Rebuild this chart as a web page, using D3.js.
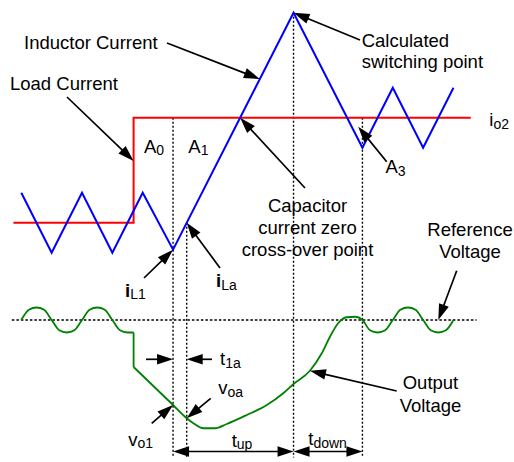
<!DOCTYPE html>
<html>
<head>
<meta charset="utf-8">
<script src="https://cdn.jsdelivr.net/npm/d3@7"></script>
<style>
  html, body { margin: 0; padding: 0; background: #fff; }
  svg { display: block; font-family: "Liberation Sans", Arial, sans-serif; }
</style>
</head>
<body>
<svg id="chart" width="514" height="462"></svg>
<script>
// Time is measured in half switching periods; currents and voltage in arbitrary units.

// Inductor current (triangle ripple, transient ramp up, overshoot, then new ripple)
const inductorTime = [0, 1, 2, 3, 4, 5, 8.97, 11.24, 12.24, 13.24, 14.24];
const inductorCurrent = [1, -1, 1, -1, 1, -0.9, 7, 2.5, 4.5, 2.5, 4.5];

// Load current step from io1 to io2
const loadTime = [-0.26, 3.7, 3.7, 14.81];
const loadCurrent = [0, 0, 3.5, 3.5];

// Output voltage ripple before the load step
const rippleBeforeTime = [0, 0.25, 0.5, 0.75, 1, 1.25, 1.5, 1.75, 2, 2.25, 2.5, 2.75, 3, 3.25, 3.5, 3.7];
const rippleBeforeVolt = [0, 8.2, 10, 8.2, 0, -8.2, -10, -8.2, 0, 8.2, 10, 8.2, 0, -8.2, -10, -10];

// Instant ESR drop at the load step
const stepTime = [3.7, 3.7];
const stepVolt = [-10, -37.6];

// Undershoot, recovery and the ripple that follows
const recoveryTime = [3.7, 5.0, 5.45, 5.67, 6.0, 6.38, 6.77, 7.43, 8.09, 8.63, 8.97, 9.51, 9.9, 10.17, 10.44, 10.72, 11.0, 11.24,
                      11.49, 11.74, 11.99, 12.24, 12.49, 12.74, 12.99, 13.24, 13.49, 13.74, 13.99, 14.24];
const recoveryVolt = [-37.6, -68, -78.6, -82.6, -86.6, -86.6, -83.2, -76, -68, -58.6, -51.2, -40.6, -26.6, -13.4, -2.6, 2.2, 2.6, 0,
                      -8.2, -10, -8.2, 0, 8.2, 10, 8.2, 0, -8.2, -10, -8.2, 0];

// Reference voltage line extent
const referenceSpan = [-0.31, 15.0];

// Event instants: valley (t1), iL = io (ta), switching point, zero cross-over
const tEvent1 = 5, tEventA = 5.45, tSwitch = 8.97, tCross = 11.24;
const markerBottom = -110;

const svg = d3.select("#chart");

const x = d3.scaleLinear().domain([0, 15]).range([21.3, 21.3 + 15 * 30.35]);
const yI = d3.scaleLinear().domain([0, 7]).range([222.7, 12.7]);
const yV = d3.scaleLinear().domain([0, -100]).range([320, 445]);

const zip = (a, b) => a.map((d, k) => [d, b[k]]);
const lineI = d3.line().x(d => x(d[0])).y(d => yI(d[1]));
const lineV = d3.line().x(d => x(d[0])).y(d => yV(d[1]));
const lineVs = d3.line().x(d => x(d[0])).y(d => yV(d[1])).curve(d3.curveMonotoneX);

// Dotted guides
const guides = svg.append("g").attr("stroke", "#000").attr("stroke-width", 1.4).attr("stroke-dasharray", "2,2");
guides.append("line").attr("x1", x(referenceSpan[0])).attr("x2", x(referenceSpan[1]))
  .attr("y1", yV(0)).attr("y2", yV(0)).attr("stroke-dasharray", "2.5,2");
[[tEvent1, yI(3.5)], [tEventA, yI(0)], [tSwitch, yI(7)], [tCross, yI(3.5)]].forEach(([t, top]) => {
  guides.append("line").attr("x1", x(t)).attr("x2", x(t)).attr("y1", top).attr("y2", yV(markerBottom));
});

// Load current
svg.append("path").datum(zip(loadTime, loadCurrent)).attr("d", lineI)
  .attr("fill", "none").attr("stroke", "#ff0000").attr("stroke-width", 2);

// Inductor current
svg.append("path").datum(zip(inductorTime, inductorCurrent)).attr("d", lineI)
  .attr("fill", "none").attr("stroke", "#0000ff").attr("stroke-width", 2).attr("stroke-linejoin", "miter");

// Output voltage
const green = svg.append("g").attr("fill", "none").attr("stroke", "#008000").attr("stroke-width", 1.8)
  .attr("stroke-linejoin", "round");
green.append("path").datum(zip(rippleBeforeTime, rippleBeforeVolt)).attr("d", lineVs);
green.append("path").datum(zip(stepTime, stepVolt)).attr("d", lineV);
green.append("path").datum(zip(recoveryTime, recoveryVolt)).attr("d", lineVs);

// Arrows
const arrows = svg.append("g");
function head(tx, ty, ux, uy) {
  const L = 16, W = 5.2;
  const bx = tx - ux * L, by = ty - uy * L;
  arrows.append("path")
    .attr("d", `M${tx},${ty}L${bx - uy * W},${by + ux * W}L${bx + uy * W},${by - ux * W}Z`)
    .attr("fill", "#000");
}
function arrow(x1, y1, x2, y2, both) {
  const dx = x2 - x1, dy = y2 - y1, len = Math.hypot(dx, dy);
  const ux = dx / len, uy = dy / len;
  const s = both ? 8 : 0;
  arrows.append("line")
    .attr("x1", x1 + ux * s).attr("y1", y1 + uy * s)
    .attr("x2", x2 - ux * 8).attr("y2", y2 - uy * 8)
    .attr("stroke", "#000").attr("stroke-width", 1.7);
  head(x2, y2, ux, uy);
  if (both) head(x1, y1, -ux, -uy);
}
const cur = (t, i) => [x(t), yI(i)];
const volt = (t, v) => [x(t), yV(v)];

arrow(167, 43, ...cur(7.86, 4.79));        // Inductor Current
arrow(67, 97, ...cur(3.7, 2.06));          // Load Current
arrow(360, 40, ...cur(tSwitch, 7));        // Calculated switching point
arrow(305, 188, ...cur(7.21, 3.5));        // Capacitor current zero cross-over
arrow(386.7, 161.7, ...cur(11.1, 3.2));    // A3
arrow(144, 278, ...cur(tEvent1, -0.9));    // iL1
arrow(220, 268, ...cur(tEventA, 0));       // iLa
arrow(456.7, 270.7, ...volt(13.74, 0));    // Reference Voltage
arrow(396.7, 391, ...volt(9.51, -40.6));   // Output Voltage
arrow(151.7, 423.3, ...volt(tEvent1, -68)); // vo1
arrow(210.7, 398.3, ...volt(tEventA, -78.6)); // voa
arrow(146, 359.3, x(tEvent1), 359.3);      // t1a left
arrow(212, 359.3, x(tEventA), 359.3);      // t1a right
arrow(x(tEvent1), 451.5, x(tSwitch), 451.5, true); // tup
arrow(x(tSwitch), 451.5, x(tCross), 451.5, true);  // tdown

// Labels
const labels = svg.append("g").attr("font-size", 18.5).attr("fill", "#000");
function label(px, py, main, sub, anchor, bold) {
  const t = labels.append("text").attr("x", px).attr("y", py).attr("text-anchor", anchor || "start");
  t.append("tspan").attr("font-weight", bold ? "bold" : null).text(main);
  if (sub) t.append("tspan").attr("font-size", 14).attr("dy", 2.5).text(sub);
  return t;
}
label(24, 49.3, "Inductor Current");
label(10, 90, "Load Current");
label(361.7, 46.7, "Calculated");
label(361.7, 68.3, "switching point");
label(489.3, 126, "i", "o2");
label(144, 152.7, "A", "0");
label(188.3, 152.7, "A", "1");
label(385.5, 173.3, "A", "3");
label(307.5, 211.7, "Capacitor", null, "middle");
label(307.5, 233.5, "current zero", null, "middle");
label(307.5, 255.5, "cross-over point", null, "middle");
label(470, 236, "Reference", null, "middle");
label(470, 257.7, "Voltage", null, "middle");
label(125, 296.7, "i", "L1", "start", true);
label(216, 287.3, "i", "La", "start", true);
label(220, 365, "t", "1a");
label(218.3, 394, "v", "oa");
label(128.3, 445.7, "v", "o1");
label(231.7, 446.7, "t", "up");
label(308.3, 445, "t", "down");
label(430.5, 389.3, "Output", null, "middle");
label(430.5, 411.7, "Voltage", null, "middle");
</script>
</body>
</html>
